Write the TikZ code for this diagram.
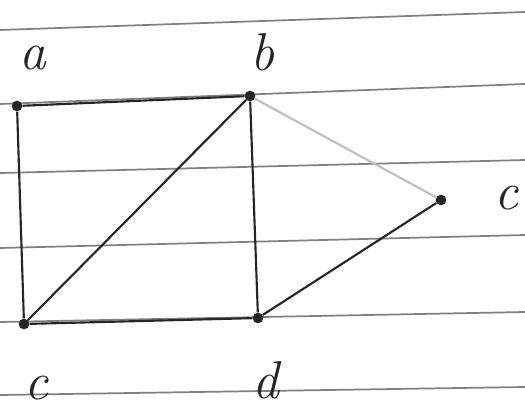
\documentclass[tikz,border=0pt]{standalone}
\begin{document}
\begin{tikzpicture}[x=0.75pt,y=-0.75pt,
  vtx/.style={circle,fill=black!85,inner sep=0pt,minimum size=8pt},
  edge/.style={draw=black!85,line width=1.6pt},
  faint/.style={draw=black!25,line width=1.6pt},
  rule/.style={draw=black!50,line width=1.3pt},
  lbl/.style={font=\fontsize{40}{40}\selectfont\itshape,text=black!85}]
\useasboundingbox (0,0) rectangle (525,411);
\fill[white] (0,0) rectangle (525,411);
% ruled paper lines
\draw[rule] (0,30) -- (525,12);
\draw[rule] (0,104) -- (525,84);
\draw[rule] (0,173) -- (525,160);
\draw[rule] (0,248) -- (525,235);
\draw[rule] (0,322) -- (525,312);
\draw[rule] (0,395) -- (525,387);
% vertices
\node[vtx] (a) at (17,106) {};
\node[vtx] (b) at (250,96) {};
\node[vtx] (cr) at (441,200) {};
\node[vtx] (cl) at (24,324) {};
\node[vtx] (d) at (258,318) {};
% labels
\node[lbl] (la) at (33,58) {a};
\node[lbl] (lb) at (262,52) {b};
\node[lbl] (lcr) at (506,198) {c};
\node[lbl] (lcl) at (36,388) {c};
\node[lbl] (ld) at (266,380) {d};
% edges
\draw[edge] (a) -- (b);
\draw[edge] (a) -- (cl);
\draw[edge] (b) -- (cl);
\draw[edge] (b) -- (d);
\draw[faint] (b) -- (cr);
\draw[edge] (cr) -- (d);
\draw[edge] (cl) -- (d);
\end{tikzpicture}
\end{document}
